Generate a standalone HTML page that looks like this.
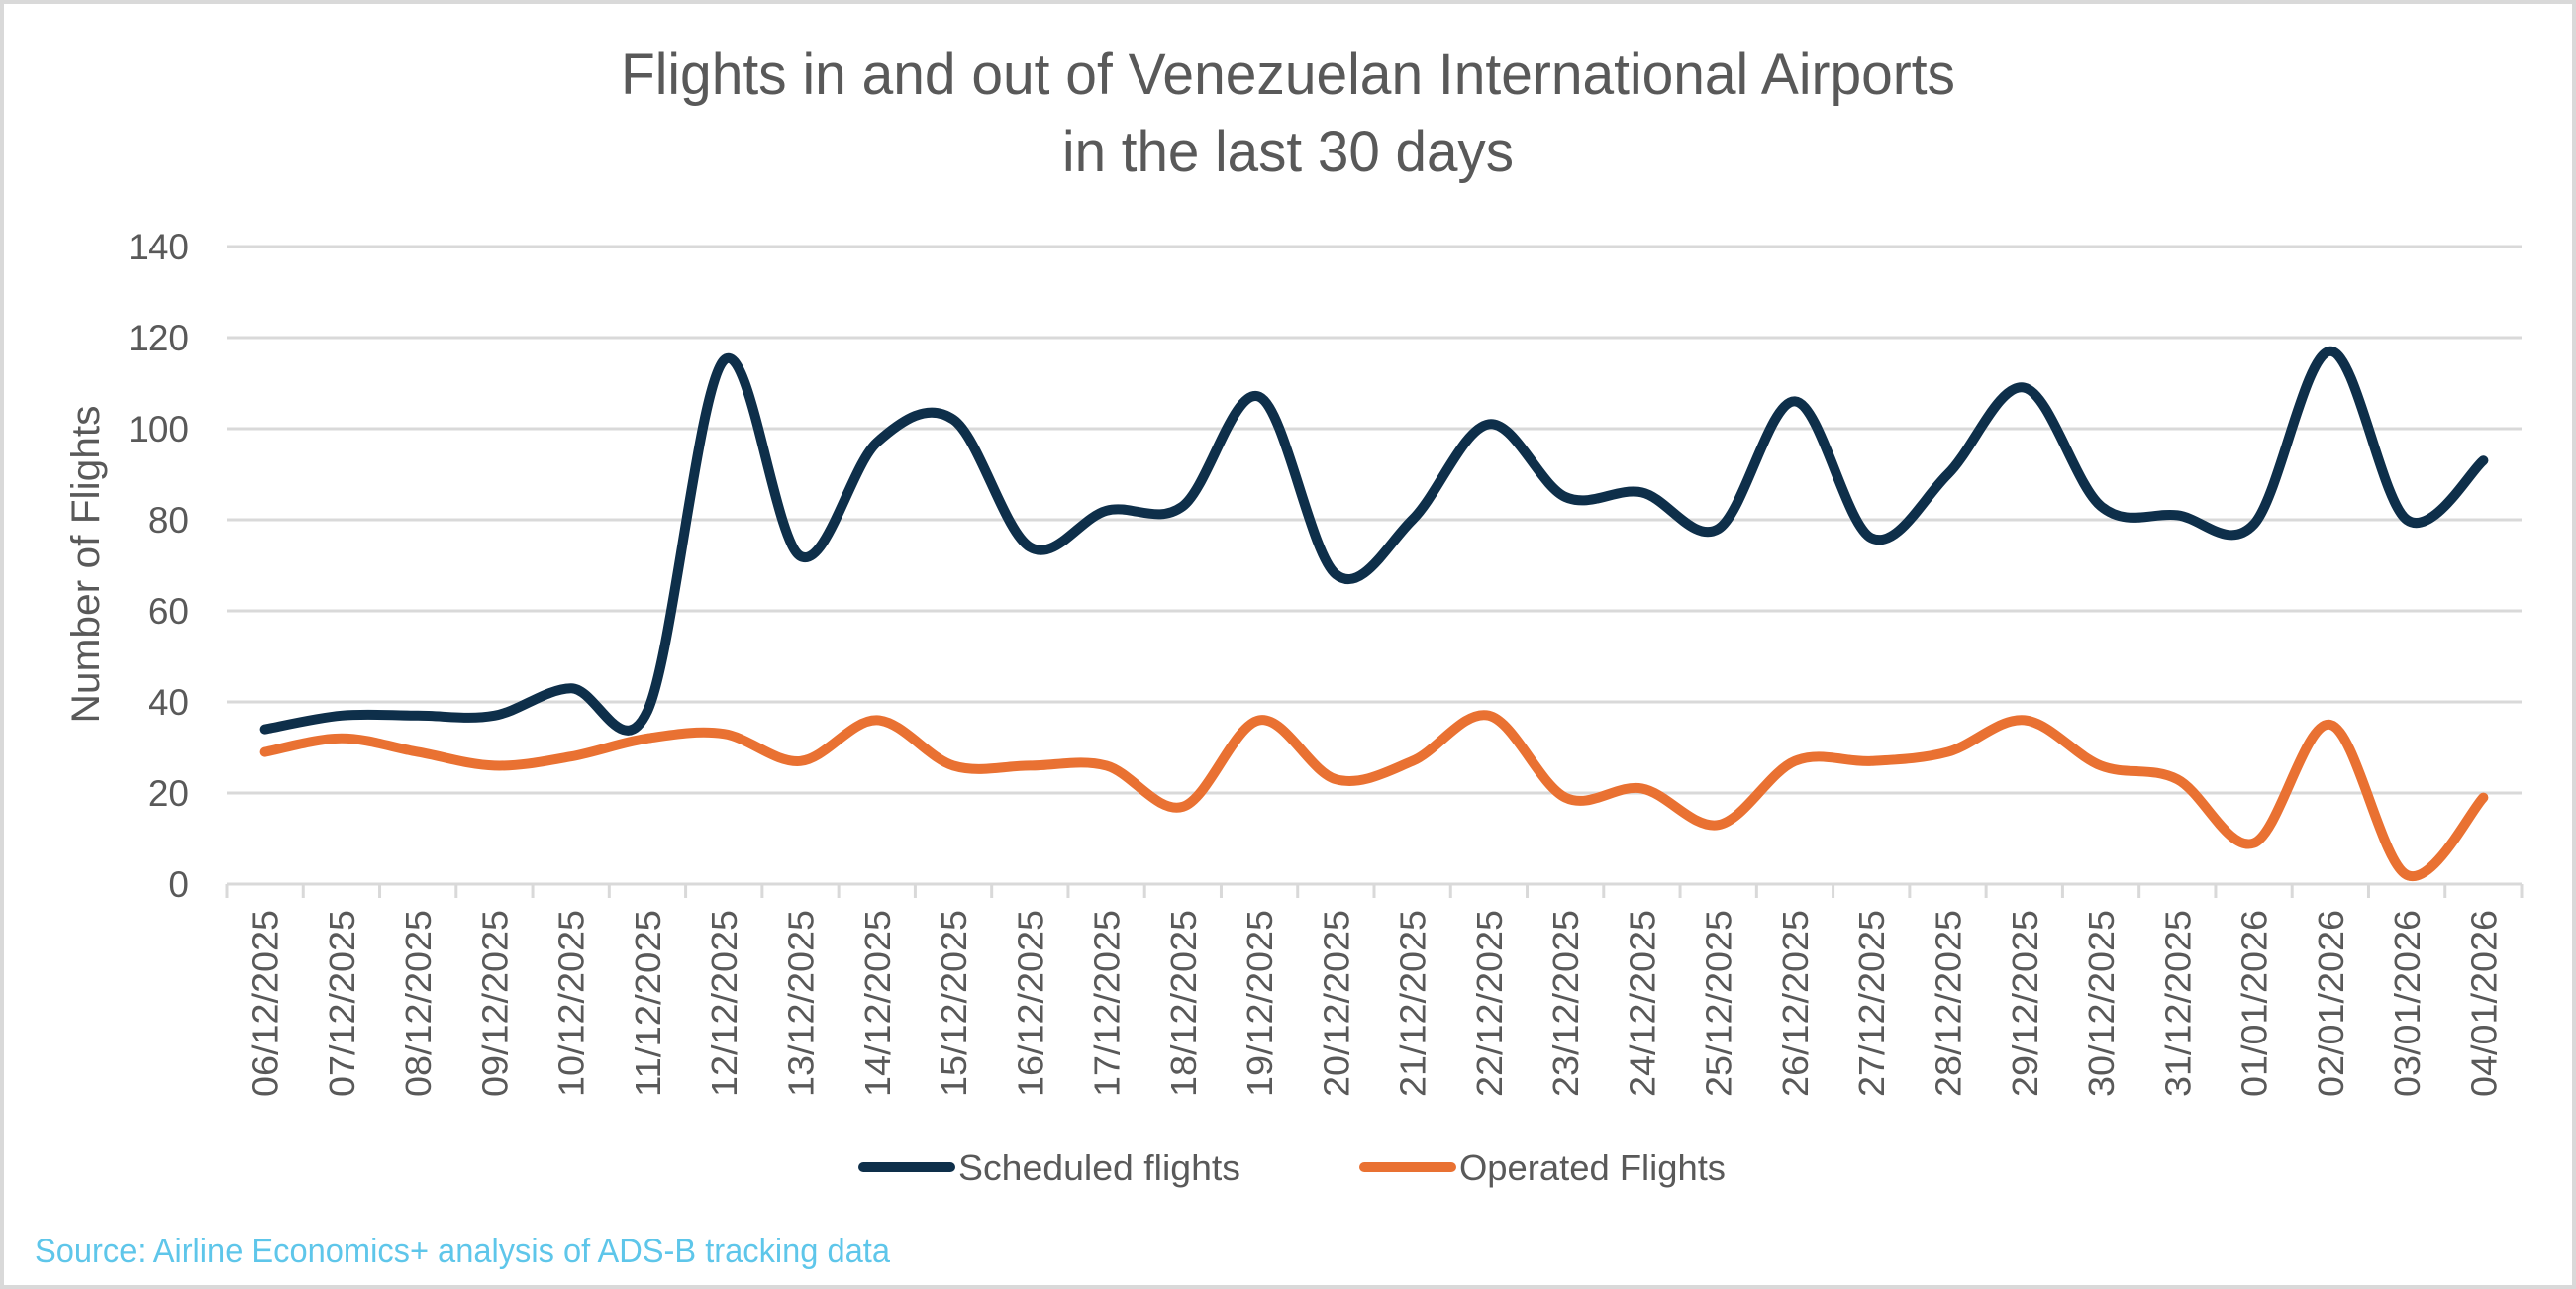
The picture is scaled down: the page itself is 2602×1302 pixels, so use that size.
<!DOCTYPE html>
<html><head><meta charset="utf-8"><style>
html,body{margin:0;padding:0;background:#fff;}
svg{display:block;}
text{font-family:"Liberation Sans",sans-serif;fill:#595959;}
</style></head><body>
<svg id="c" width="2602" height="1302" viewBox="0 0 2602 1302" xmlns="http://www.w3.org/2000/svg">
<rect x="2" y="2" width="2598" height="1298" fill="#fff" stroke="#d9d9d9" stroke-width="4"/>
<text x="1301" y="95" font-size="58" text-anchor="middle" textLength="1348" lengthAdjust="spacingAndGlyphs">Flights in and out of Venezuelan International Airports</text>
<text x="1301" y="173" font-size="58" text-anchor="middle" textLength="456" lengthAdjust="spacingAndGlyphs">in the last 30 days</text>
<g id="grid"></g>
<text transform="translate(100,570) rotate(-90)" font-size="40" text-anchor="middle" textLength="321" lengthAdjust="spacingAndGlyphs">Number of Flights</text>
<g id="xl"></g>
<path id="s1" fill="none" stroke="#0e2f4a" stroke-width="10" stroke-linecap="round" stroke-linejoin="round"/>
<path id="s2" fill="none" stroke="#e97132" stroke-width="10" stroke-linecap="round" stroke-linejoin="round"/>
<line x1="872" y1="1179" x2="960" y2="1179" stroke="#0e2f4a" stroke-width="10" stroke-linecap="round"/>
<text x="968" y="1192" font-size="36" textLength="285" lengthAdjust="spacingAndGlyphs">Scheduled flights</text>
<line x1="1378" y1="1179" x2="1466" y2="1179" stroke="#e97132" stroke-width="10" stroke-linecap="round"/>
<text x="1474" y="1192" font-size="36" textLength="269" lengthAdjust="spacingAndGlyphs">Operated Flights</text>
<text x="35" y="1275" font-size="34" style="fill:#5ec6ea" textLength="864" lengthAdjust="spacingAndGlyphs">Source: Airline Economics+  analysis of ADS-B tracking data</text>
</svg>
<script>
var NS="http://www.w3.org/2000/svg";
var L=229,R=2547,Y0=893,Y140=249,n=30,w=(R-L)/n;
function yv(v){return Y0-(Y0-Y140)*v/140;}
var g=document.getElementById('grid');
for(var i=0;i<=7;i++){var y=yv(i*20);
 var l=document.createElementNS(NS,'line');l.setAttribute('x1',L);l.setAttribute('x2',R);l.setAttribute('y1',y);l.setAttribute('y2',y);l.setAttribute('stroke','#d9d9d9');l.setAttribute('stroke-width','3');g.appendChild(l);
 var t=document.createElementNS(NS,'text');t.setAttribute('x',191);t.setAttribute('y',y+13);t.setAttribute('font-size','37');t.setAttribute('text-anchor','end');t.textContent=i*20;g.appendChild(t);}
for(var i=0;i<=n;i++){var x=L+i*w;var l=document.createElementNS(NS,'line');l.setAttribute('x1',x);l.setAttribute('x2',x);l.setAttribute('y1',Y0);l.setAttribute('y2',Y0+14);l.setAttribute('stroke','#d9d9d9');l.setAttribute('stroke-width','3');g.appendChild(l);}
var labels=[];
var d0=new Date(Date.UTC(2025,11,6));
for(var i=0;i<n;i++){var d=new Date(d0.getTime()+i*86400000);
 var s=('0'+d.getUTCDate()).slice(-2)+'/'+('0'+(d.getUTCMonth()+1)).slice(-2)+'/'+d.getUTCFullYear();labels.push(s);}
var xl=document.getElementById('xl');
labels.forEach(function(s,i){var x=L+(i+0.5)*w;var t=document.createElementNS(NS,'text');
 t.setAttribute('transform','translate('+(x+13)+',919) rotate(-90)');t.setAttribute('font-size','36');t.setAttribute('text-anchor','end');
 t.setAttribute('textLength','189');t.setAttribute('lengthAdjust','spacingAndGlyphs');t.textContent=s;xl.appendChild(t);});
var A=[34,37,37,37,43,38,115,72,97,102,74,82,83,107,68,80,101,85,86,78,106,76,90,109,83,81,79,117,80,93];
var B=[29,32,29,26,28,32,33,27,36,26,26,26,17,36,23,27,37,19,21,13,27,27,29,36,26,23,9,35,2,19];
function path(v){var p=v.map(function(val,i){return [L+(i+0.5)*w,yv(val)];});
 var d='M'+p[0][0]+','+p[0][1];var k=1/6;
 for(var i=0;i<p.length-1;i++){var p0=p[i-1]||p[i],p1=p[i],p2=p[i+1],p3=p[i+2]||p[i+1];
  var c1=[p1[0]+(p2[0]-p0[0])*k,p1[1]+(p2[1]-p0[1])*k],c2=[p2[0]-(p3[0]-p1[0])*k,p2[1]-(p3[1]-p1[1])*k];
  d+=' C'+c1[0].toFixed(1)+','+c1[1].toFixed(1)+' '+c2[0].toFixed(1)+','+c2[1].toFixed(1)+' '+p2[0].toFixed(1)+','+p2[1].toFixed(1);}
 return d;}
document.getElementById('s1').setAttribute('d',path(A));
document.getElementById('s2').setAttribute('d',path(B));
</script>
</body></html>
